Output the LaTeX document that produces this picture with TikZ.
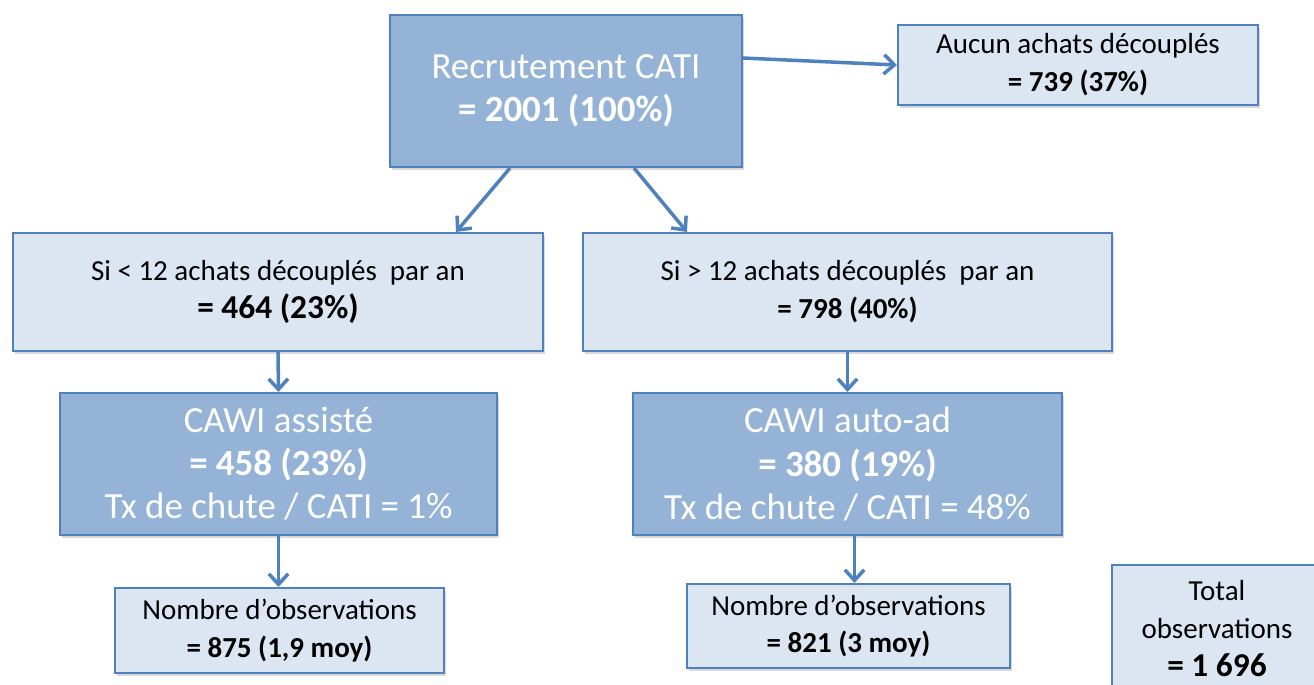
\documentclass[tikz,border=0pt]{standalone}
\usepackage{fontspec}
\setmainfont{Carlito}
\usetikzlibrary{arrows.meta,shadows}
\definecolor{bordblue}{HTML}{4F81BD}
\definecolor{darkfill}{HTML}{95B3D7}
\definecolor{lightfill}{HTML}{DCE6F2}
\tikzset{
  box/.style={draw=bordblue,line width=1.2pt,align=center,inner sep=0pt,
    drop shadow={shadow xshift=1pt,shadow yshift=-1.5pt,opacity=0.3}},
  darkbox/.style={box,fill=darkfill,text=white,font=\fontsize{21}{24.5}\selectfont},
  lightbox/.style={box,fill=lightfill,text=black,font=\fontsize{16.5}{21.5}\selectfont},
  arr/.style={draw=bordblue,line width=2pt,-{Straight Barb[length=6pt,width=11pt]}},
}
\newcommand{\bignum}[1]{{\bfseries\fontsize{19}{21}\selectfont #1}}
\begin{document}
\begin{tikzpicture}[x=0.02cm,y=-0.02cm]
  \useasboundingbox (0,0) rectangle (1314,684);
  \node[darkbox,minimum width=7.04cm,minimum height=3.04cm] (root) at (566,91)
    {Recrutement CATI\\ \textbf{= 2001 (100\%)}};
  \node[lightbox,minimum width=7.2cm,minimum height=1.6cm] (aucun) at (1078,65)
    {Aucun achats découplés\\ \textbf{= 739 (37\%)}};
  \node[lightbox,minimum width=10.6cm,minimum height=2.36cm] (inf) at (278,292)
    {Si < 12 achats découplés\ \ par an\\ \bignum{= 464 (23\%)}};
  \node[lightbox,minimum width=10.58cm,minimum height=2.36cm] (sup) at (847.5,292)
    {Si > 12 achats découplés\ \ par an\\ \textbf{= 798 (40\%)}};
  \node[darkbox,minimum width=8.74cm,minimum height=2.84cm] (assist) at (278.5,464)
    {CAWI assisté\\ \textbf{= 458 (23\%)}\\ Tx de chute / CATI = 1\%};
  \node[darkbox,minimum width=8.58cm,minimum height=2.84cm] (autoad) at (847.5,464)
    {CAWI auto-ad\\ \textbf{= 380 (19\%)}\\ Tx de chute / CATI = 48\%};
  \node[lightbox,minimum width=6.58cm,minimum height=1.7cm] (obsa) at (279.5,630.5)
    {Nombre d’observations\\ \textbf{= 875 (1,9 moy)}};
  \node[lightbox,minimum width=6.46cm,minimum height=1.68cm] (obsb) at (848.5,626)
    {Nombre d’observations\\ \textbf{= 821 (3 moy)}};
  \node[lightbox,minimum width=4.2cm,minimum height=2.54cm] (total) at (1217,628.5)
    {Total\\ observations\\ \bignum{= 1 696}};
  \draw[arr] ([yshift=0.66cm]root.east) -- (aucun.west);
  \draw[arr] ([xshift=-1.12cm]root.south) -- ([xshift=3.56cm]inf.north);
  \draw[arr] ([xshift=1.36cm]root.south) -- ([xshift=-3.21cm]sup.north);
  \draw[arr] (inf.south) -- (assist.north);
  \draw[arr] (sup.south) -- (autoad.north);
  \draw[arr] (assist.south) -- (assist.south |- obsa.north);
  \draw[arr] ([xshift=0.14cm]autoad.south) -- ([xshift=0.14cm]autoad.south |- obsb.north);
\end{tikzpicture}
\end{document}
